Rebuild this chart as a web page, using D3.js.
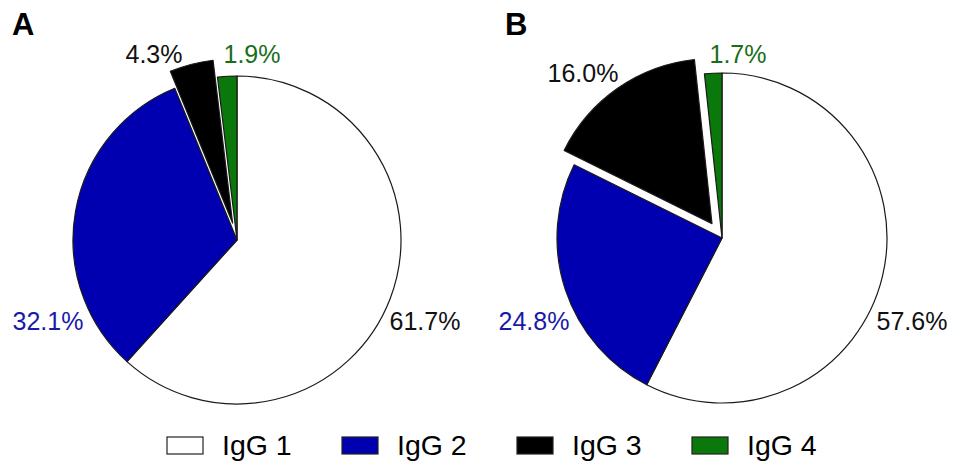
<!DOCTYPE html>
<html>
<head>
<meta charset="utf-8">
<script src="https://cdn.jsdelivr.net/npm/d3@7"></script>
<style>
  html, body { margin: 0; padding: 0; background: #fff; }
  svg { display: block; font-family: "Liberation Sans", Arial, sans-serif; }
</style>
</head>
<body>
<svg id="chart" width="953" height="464"></svg>
<script>
// IgG subclass distribution (%), two groups
const subclasses = ["IgG 1", "IgG 2", "IgG 3", "IgG 4"];
const valuesA = [61.7, 32.1, 4.3, 1.9];
const valuesB = [57.6, 24.8, 16.0, 1.7];
const panelTitles = ["A", "B"];

// Styling
const fills = ["#ffffff", "#0000b0", "#000000", "#0a780a"];
const labelColors = ["#111111", "#1a1aa8", "#111111", "#1a6e1a"];
const explodedIndex = 2;   // IgG 3 slice is pulled out
const explodeDist = 17.5;

// Label offsets from each pie's centre (text anchor middle, baseline)
const labelOffsetsA = [[188, 90], [-189, 90], [-83, -177], [15, -177]];
const labelOffsetsB = [[190, 92], [-188, 92], [-139, -156], [16, -175]];

const svg = d3.select("#chart");

const panels = [
  { title: panelTitles[0], values: valuesA, cx: 237, cy: 240, r: 164, offsets: labelOffsetsA, tx: 12 },
  { title: panelTitles[1], values: valuesB, cx: 722, cy: 238, r: 165, offsets: labelOffsetsB, tx: 505 }
];

const pie = d3.pie().sort(null).value(d => d.value);

panels.forEach(p => {
  const data = subclasses.map((name, i) => ({ name, i, value: p.values[i] }));
  const arcs = pie(data);
  const arc = d3.arc().innerRadius(0).outerRadius(p.r);

  const g = svg.append("g").attr("transform", `translate(${p.cx},${p.cy})`);

  g.selectAll("path.slice")
    .data(arcs)
    .join("path")
    .attr("class", "slice")
    .attr("d", arc)
    .attr("fill", d => fills[d.data.i])
    .attr("stroke", "#1a1a1a")
    .attr("stroke-width", 1.2)
    .attr("stroke-linejoin", "round")
    .attr("transform", d => {
      if (d.data.i !== explodedIndex) return null;
      const mid = (d.startAngle + d.endAngle) / 2;
      return `translate(${Math.sin(mid) * explodeDist},${-Math.cos(mid) * explodeDist})`;
    });

  g.selectAll("text.pct")
    .data(arcs)
    .join("text")
    .attr("class", "pct")
    .attr("x", d => p.offsets[d.data.i][0])
    .attr("y", d => p.offsets[d.data.i][1])
    .attr("text-anchor", "middle")
    .attr("font-size", 25)
    .attr("fill", d => labelColors[d.data.i])
    .text(d => d.data.value.toFixed(1) + "%");

  svg.append("text")
    .attr("x", p.tx)
    .attr("y", 35)
    .attr("font-size", 31)
    .attr("font-weight", "bold")
    .attr("fill", "#000")
    .text(p.title);
});

// Legend
const legendX = d3.scalePoint().domain(subclasses).range([167, 692]);
const legend = svg.append("g");
const items = legend.selectAll("g.item")
  .data(subclasses)
  .join("g")
  .attr("class", "item")
  .attr("transform", d => `translate(${legendX(d)},437)`);

items.append("rect")
  .attr("width", 36)
  .attr("height", 17)
  .attr("fill", (d, i) => fills[i])
  .attr("stroke", "#222")
  .attr("stroke-width", 1.2);

items.append("text")
  .attr("x", 55)
  .attr("y", 18)
  .attr("font-size", 28.5)
  .attr("fill", "#000")
  .text(d => d);
</script>
</body>
</html>
